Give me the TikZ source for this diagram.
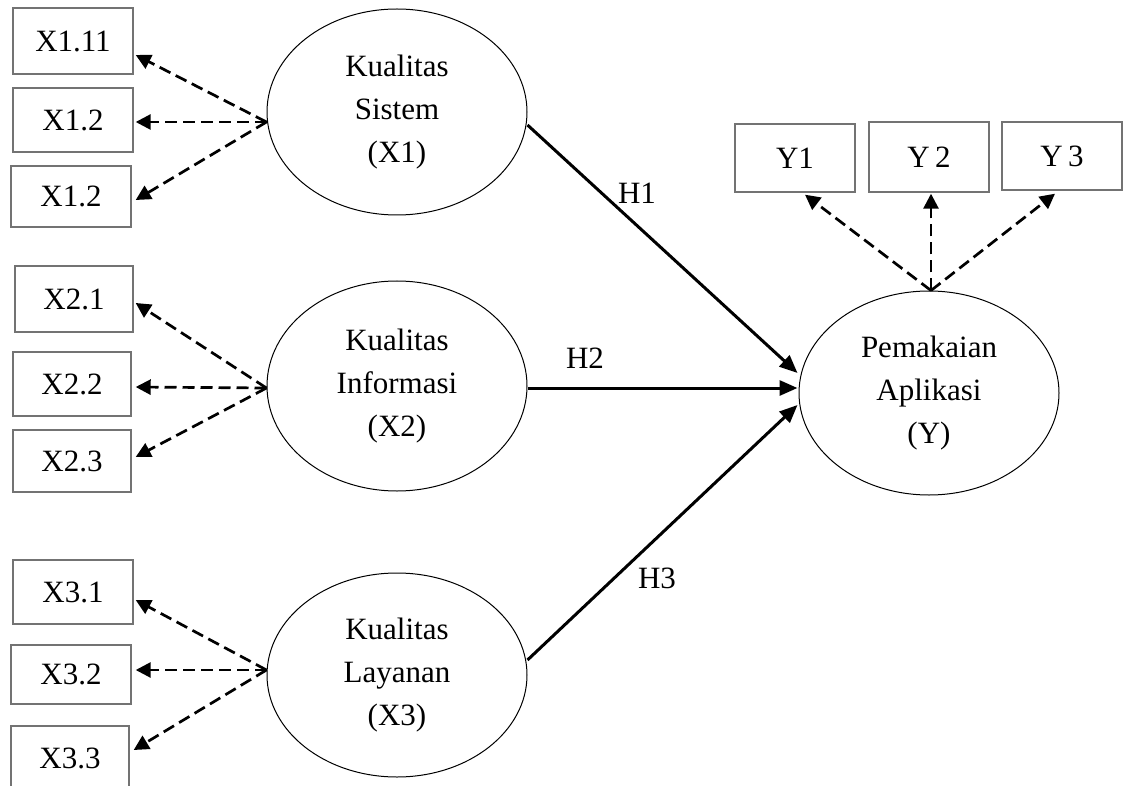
\documentclass[tikz,border=0pt]{standalone}
\usepackage{fontspec}
\setmainfont{Liberation Serif}
\usetikzlibrary{shapes.geometric,arrows.meta,calc}
\begin{document}
\begin{tikzpicture}[x=1pt,y=-1pt,
  every node/.style={font=\fontsize{31}{43}\selectfont},
  ind/.style={draw=black!55,line width=1.4pt,rectangle,minimum width=120pt,minimum height=64pt,inner sep=0pt},
  lat/.style={draw=black,line width=1pt,ellipse,minimum width=260pt,minimum height=206pt,inner sep=0pt,align=center},
  dsh/.style={line width=2.7pt,dash pattern=on 12pt off 6pt,-{Triangle[length=15pt,width=15pt]}},
  sol/.style={line width=3pt,-{Triangle[length=18pt,width=15pt]}},
  lbl/.style={inner sep=0pt}]
\useasboundingbox (0,0) rectangle (1124,786);
\clip (0,0) rectangle (1124,786);
% indicator boxes
\node[ind,minimum height=66pt] (b11) at (73,41) {X1.11};
\node[ind] (b12) at (73,120) {X1.2};
\node[ind,minimum height=61pt] (b13) at (71,196.5) {X1.2};
\node[ind,minimum width=118pt,minimum height=66pt] (b21) at (74,299) {X2.1};
\node[ind,minimum width=118pt] (b22) at (72,384) {X2.2};
\node[ind,minimum width=118pt,minimum height=62pt] (b23) at (72,461) {X2.3};
\node[ind] (b31) at (73,592) {X3.1};
\node[ind,minimum height=59pt] (b32) at (71,674.5) {X3.2};
\node[ind,minimum width=118pt] (b33) at (70,758) {X3.3};
\node[ind,minimum height=68pt] (y1) at (795,158) {Y1};
\node[ind,minimum height=70pt] (y2) at (929,157) {Y\,2};
\node[ind,minimum height=68pt] (y3) at (1062,156) {Y\,3};
% latent variables
\node[lat] (e1) at (397,112) {Kualitas\\Sistem\\(X1)};
\node[lat,minimum height=210pt] (e2) at (397,386) {Kualitas\\Informasi\\(X2)};
\node[lat,minimum height=204pt] (e3) at (397,675) {Kualitas\\Layanan\\(X3)};
\node[lat,minimum height=204pt] (ey) at (929,393) {Pemakaian\\Aplikasi\\(Y)};
% tails
\coordinate (t1) at ($(e1.west)+(0,10)$);
\coordinate (t2) at ($(e2.west)+(0,2)$);
\coordinate (t3) at ($(e3.west)+(0,-5)$);
\coordinate (ty) at ($(ey.north)+(2,0)$);
% dashed loadings
\draw[dsh] (t1) -- ($(b11.east)+(2,14)$);
\draw[dsh] (t1) -- ($(b12.east)+(2,2)$);
\draw[dsh] (t1) -- ($(b13.east)+(4,3.5)$);
\draw[dsh] (t2) -- ($(b21.east)+(2,4)$);
\draw[dsh] (t2) -- ($(b22.east)+(4,3)$);
\draw[dsh] (t2) -- ($(b23.east)+(4,-4)$);
\draw[dsh] (t3) -- ($(b31.east)+(2,8)$);
\draw[dsh] (t3) -- ($(b32.east)+(4,-4.5)$);
\draw[dsh] (t3) -- ($(b33.east)+(4,-8)$);
\draw[dsh] (ty) -- ($(y1.south)+(10,2)$);
\draw[dsh] (ty) -- ($(y2.south)+(2,1)$);
\draw[dsh] (ty) -- ($(y3.south)+(-7,3)$);
% structural paths
\draw[sol] ($(e1.east)+(0,13)$) -- ($(ey.west)+(-1,-20)$);
\draw[sol] ($(e2.east)+(0,2)$) -- ($(ey.west)+(-1,-5)$);
\draw[sol] ($(e3.east)+(0,-15)$) -- ($(ey.west)+(-1,12)$);
\node[lbl] (h1) at (637,193) {H1};
\node[lbl] (h2) at (585,358) {H2};
\node[lbl] (h3) at (657,578) {H3};
\end{tikzpicture}
\end{document}
